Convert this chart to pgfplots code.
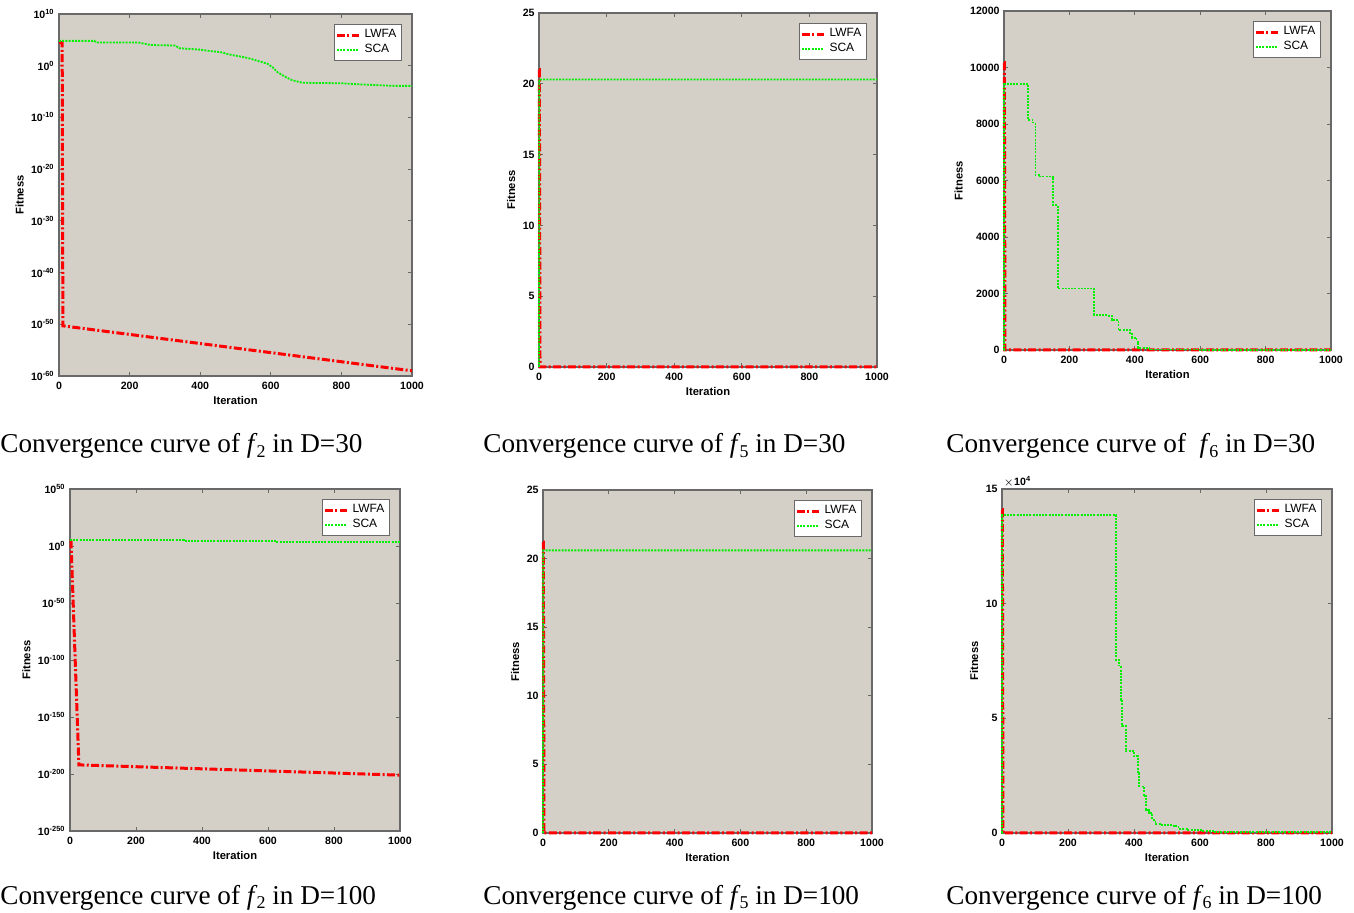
\documentclass[border=0pt]{standalone}
\usepackage{pgfplots}
\pgfplotsset{compat=1.18}
\usepackage{fontspec}
\setmainfont{Liberation Serif}
\newfontfamily\arial{Liberation Sans}
\definecolor{bgc}{RGB}{212,208,200}
\definecolor{axc}{RGB}{105,105,105}
\definecolor{lred}{RGB}{255,0,0}
\definecolor{lgreen}{RGB}{0,240,0}
\newcommand\tickfont{\arial\bfseries\fontsize{5.3}{6}\selectfont}
\newcommand\labfont{\arial\bfseries\fontsize{5.6}{6.5}\selectfont}
\newcommand\legfont{\arial\fontsize{6}{6.5}\selectfont}
\newcommand\capfont{\fontsize{13.6}{16}\selectfont}
\newcommand\tsup[1]{\textsuperscript{#1}}
\newcommand\fsub[1]{\textit{f}\kern-0.5pt\raisebox{-2.2pt}{\fontsize{9}{10}\selectfont #1}}
\pgfplotsset{
  mstyle/.style={
    scale only axis, clip=false,
    axis background/.style={fill=bgc},
    axis line style={draw=axc, line width=0.6pt},
    tick align=inside, major tick length=2pt,
    tick style={draw=axc, line width=0.4pt},
    xmin=0, xmax=1000, xtick={0,200,...,1000},
    ticklabel style={font=\tickfont, inner sep=1pt},
    xticklabel style={yshift=-2pt},
    yticklabel style={xshift=-1pt},
    /pgf/number format/assume math mode=true,
    /pgf/number format/1000 sep={},
    scaled ticks=false,
    xlabel={Iteration}, ylabel={Fitness},
    label style={font=\labfont},
    xlabel style={yshift=1.5pt},
    ylabel style={yshift=-0.8pt},
    legend style={at={(1,1)}, anchor=north east, xshift=-5pt, yshift=-5pt,
      font=\legfont, draw=axc, fill=white, inner sep=0.6pt, row sep=-2.5pt, line width=0.5pt},
    legend cell align=left,
    legend image code/.code={\draw[##1] (0pt,0pt) -- (11pt,0pt);},
  },
  lw/.style={draw=lred, line width=1.5pt, dash pattern=on 4pt off 1.2pt on 1pt off 1.2pt},
  sc/.style={draw=lgreen, line width=0.9pt, dash pattern=on 1pt off 0.6pt},
}
\begin{document}
\begin{tikzpicture}
\useasboundingbox (0pt,0pt) rectangle (677pt,-456.5pt);

% Panel 1: f2, D=30
\begin{axis}[mstyle, at={(29.5pt,-7pt)}, anchor=north west, width=176.5pt, height=181pt,
  ymode=log, ymin=1e-60, ymax=1e10, yminorticks=false,
  ytick={1e-60,1e-50,1e-40,1e-30,1e-20,1e-10,1,1e10},
  yticklabels={10\tsup{-60},10\tsup{-50},10\tsup{-40},10\tsup{-30},10\tsup{-20},10\tsup{-10},10\tsup{0},10\tsup{10}}]
\addplot[lw] coordinates {(0,3e4) (9,3e4) (11,5e-51) (1000,1e-59)};
\addplot[sc] coordinates {(0,6.3e4) (100,6.3e4) (105,3.2e4) (225,3.2e4) (235,2.2e4) (260,1e4) (330,8e3) (340,2.5e3)
  (400,1.26e3) (420,8e2) (460,4e2) (480,1.6e2) (520,50) (540,25) (560,10) (590,2.5) (605,0.5) (620,0.05)
  (645,5e-3) (660,1.6e-3) (690,5e-4) (800,4e-4) (850,2.5e-4) (950,1.26e-4) (1000,1.26e-4)};
\legend{LWFA,SCA}
\end{axis}

% Panel 2: f5, D=30
\begin{axis}[mstyle, at={(269.5pt,-6.5pt)}, anchor=north west, width=169pt, height=177pt,
  ymin=0, ymax=25, ytick={0,5,10,15,20,25}]
\addplot[lw] coordinates {(0,21) (1,21) (3,0) (1000,0)};
\addplot[sc] coordinates {(0,0) (1,20.3) (1000,20.3)};
\legend{LWFA,SCA}
\end{axis}

% Panel 3: f6, D=30
\begin{axis}[mstyle, at={(502pt,-5.5pt)}, anchor=north west, width=163.5pt, height=169.5pt,
  ymin=0, ymax=12000, ytick={0,2000,4000,6000,8000,10000,12000}]
\addplot[lw] coordinates {(0,10170) (1,10170) (3,0) (1000,0)};
\addplot[sc, const plot] coordinates {(0,0) (1,9415) (74,8140) (87,8050) (96,6200) (110,6140) (151,5130)
  (164,2180) (276,1240) (320,1200) (330,1060) (350,710) (385,600) (392,420) (405,300) (410,60)
  (445,20) (600,10) (1000,10)};
\legend{LWFA,SCA}
\end{axis}

% Panel 4: f2, D=100
\begin{axis}[mstyle, at={(35pt,-244.5pt)}, anchor=north west, width=165pt, height=171pt,
  ymode=log, ymin=1e-250, ymax=1e50, yminorticks=false,
  ytick={1e-250,1e-200,1e-150,1e-100,1e-50,1,1e50},
  yticklabels={10\tsup{-250},10\tsup{-200},10\tsup{-150},10\tsup{-100},10\tsup{-50},10\tsup{0},10\tsup{50}}]
\addplot[lw] coordinates {(0,1e4) (3,1e4) (27,1e-192) (1000,1e-201)};
\addplot[sc, const plot] coordinates {(0,1.6e5) (345,1.6e5) (345,4e4) (625,4e4) (625,6e3) (1000,6e3)};
\legend{LWFA,SCA}
\end{axis}

% Panel 5: f5, D=100
\begin{axis}[mstyle, at={(271.5pt,-245pt)}, anchor=north west, width=164.5pt, height=171.5pt,
  ymin=0, ymax=25, ytick={0,5,10,15,20,25}]
\addplot[lw] coordinates {(0,21.2) (1,21.2) (3,0) (1000,0)};
\addplot[sc] coordinates {(0,0) (1,20.6) (1000,20.6)};
\legend{LWFA,SCA}
\end{axis}

% Panel 6: f6, D=100
\begin{axis}[mstyle, at={(501pt,-244.5pt)}, anchor=north west, width=165pt, height=172pt,
  ymin=0, ymax=150000, ytick={0,50000,100000,150000}, yticklabels={0,5,10,15}]
\addplot[lw] coordinates {(0,141000) (1,141000) (3,0) (1000,0)};
\addplot[sc, const plot] coordinates {(0,0) (1,138800) (345,75600) (355,73000) (360,58000) (364,46500)
  (375,35600) (400,33400) (412,26000) (416,20300) (430,16000) (436,10200) (445,8700) (455,5800)
  (465,4000) (480,3600) (520,3000) (535,1800) (560,1200) (610,800) (640,300) (1000,300)};
\legend{LWFA,SCA}
\node[font=\tickfont, anchor=south west, inner sep=0.5pt] at (rel axis cs:0,1) {$\times$10\tsup{4}};
\end{axis}

% Captions
\node[anchor=base west, inner sep=0pt, font=\capfont] at (0pt,-226.5pt) {Convergence curve of \fsub{2} in D=30};
\node[anchor=base west, inner sep=0pt, font=\capfont] at (241.5pt,-226.5pt) {Convergence curve of \fsub{5} in D=30};
\node[anchor=base west, inner sep=0pt, font=\capfont] at (473pt,-226.5pt) {Convergence curve of \ \fsub{6} in D=30};
\node[anchor=base west, inner sep=0pt, font=\capfont] at (0pt,-452pt) {Convergence curve of \fsub{2} in D=100};
\node[anchor=base west, inner sep=0pt, font=\capfont] at (241.5pt,-452pt) {Convergence curve of \fsub{5} in D=100};
\node[anchor=base west, inner sep=0pt, font=\capfont] at (473pt,-452pt) {Convergence curve of \fsub{6} in D=100};
\end{tikzpicture}
\end{document}
